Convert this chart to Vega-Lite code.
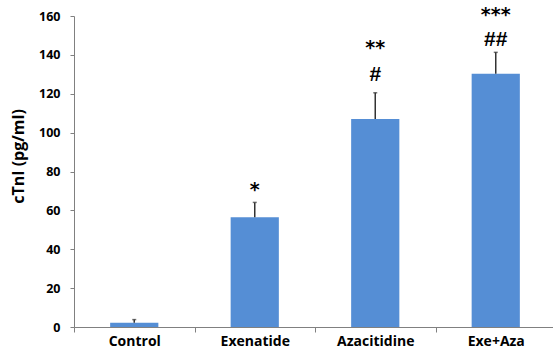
{
  "$schema": "https://vega.github.io/schema/vega-lite/v6.json",
  "width": 479,
  "height": 311,
  "autosize": {"type": "none"},
  "padding": {"left": 74, "top": 16, "right": 0, "bottom": 27},
  "background": "white",
  "config": {
    "view": {"stroke": null},
    "axisY": {
      "grid": false,
      "labelFont": "Open Sans",
      "labelFontWeight": "bold",
      "labelFontSize": 12.5,
      "labelColor": "#000000",
      "labelPadding": 10,
      "labelOverlap": false,
      "tickSize": 4,
      "tickColor": "#808080",
      "domainColor": "#808080",
      "titleFont": "Open Sans",
      "titleFontWeight": "bold",
      "titleFontSize": 16,
      "titleColor": "#000000",
      "titleX": -56,
      "titleY": 140,
      "titleBaseline": "middle",
      "titleAlign": "center",
      "titleAngle": -90
    }
  },
  "datasets": {
    "bars": [
      {"group": "Control", "value": 2.2, "upper": 3.8},
      {"group": "Exenatide", "value": 56.4, "upper": 64.1},
      {"group": "Azacitidine", "value": 107, "upper": 120.5},
      {"group": "Exe+Aza", "value": 130.3, "upper": 141.3}
    ],
    "notes": [
      {"group": "Exenatide", "label": "*", "pos": 73.3, "kind": "star"},
      {"group": "Azacitidine", "label": "**", "pos": 146.6, "kind": "star"},
      {"group": "Azacitidine", "label": "#", "pos": 130.1, "kind": "hash"},
      {"group": "Exe+Aza", "label": "***", "pos": 163.3, "kind": "star"},
      {"group": "Exe+Aza", "label": "##", "pos": 148.4, "kind": "hash"}
    ]
  },
  "encoding": {
    "x": {
      "field": "group",
      "type": "nominal",
      "sort": ["Control", "Exenatide", "Azacitidine", "Exe+Aza"],
      "scale": {"paddingInner": 0, "paddingOuter": 0, "range": [0, 482]},
      "axis": {
        "title": null,
        "labelAngle": 0,
        "labelFont": "Open Sans",
        "labelFontWeight": "bold",
        "labelFontSize": 14,
        "labelColor": "#000000",
        "labelPadding": 2,
        "tickBand": "extent",
        "tickSize": 5,
        "tickColor": "#808080",
        "domainColor": "#808080",
        "grid": false
      }
    }
  },
  "layer": [
    {
      "data": {"name": "bars"},
      "mark": {"type": "bar", "width": {"band": 0.4}, "color": "#558ED5"},
      "encoding": {
        "y": {
          "field": "value",
          "type": "quantitative",
          "scale": {"domain": [0, 160], "nice": false},
          "axis": {"title": "cTnI (pg/ml)", "values": [0, 20, 40, 60, 80, 100, 120, 140, 160]}
        }
      }
    },
    {
      "data": {"name": "bars"},
      "mark": {"type": "rule", "color": "#333333", "strokeWidth": 1.5},
      "encoding": {
        "y": {"field": "value", "type": "quantitative", "axis": {"title": "cTnI (pg/ml)", "values": [0, 20, 40, 60, 80, 100, 120, 140, 160]}},
        "y2": {"field": "upper"}
      }
    },
    {
      "data": {"name": "bars"},
      "mark": {"type": "tick", "color": "#333333", "size": 4, "thickness": 1.5},
      "encoding": {
        "y": {"field": "upper", "type": "quantitative", "axis": {"title": "cTnI (pg/ml)", "values": [0, 20, 40, 60, 80, 100, 120, 140, 160]}}
      }
    },
    {
      "data": {"name": "notes"},
      "transform": [{"filter": "datum.kind === 'star'"}],
      "mark": {"type": "text", "font": "DejaVu Sans", "fontWeight": "bold", "fontSize": 19, "baseline": "middle", "dy": 5.5, "color": "#000000", "clip": false},
      "encoding": {
        "y": {"field": "pos", "type": "quantitative", "axis": {"title": "cTnI (pg/ml)", "values": [0, 20, 40, 60, 80, 100, 120, 140, 160]}},
        "text": {"field": "label"}
      }
    },
    {
      "data": {"name": "notes"},
      "transform": [{"filter": "datum.kind === 'hash'"}],
      "mark": {"type": "text", "font": "Liberation Sans", "fontWeight": "bold", "fontSize": 21, "baseline": "middle", "dy": 1, "color": "#000000", "clip": false},
      "encoding": {
        "y": {"field": "pos", "type": "quantitative", "axis": {"title": "cTnI (pg/ml)", "values": [0, 20, 40, 60, 80, 100, 120, 140, 160]}},
        "text": {"field": "label"}
      }
    }
  ]
}
